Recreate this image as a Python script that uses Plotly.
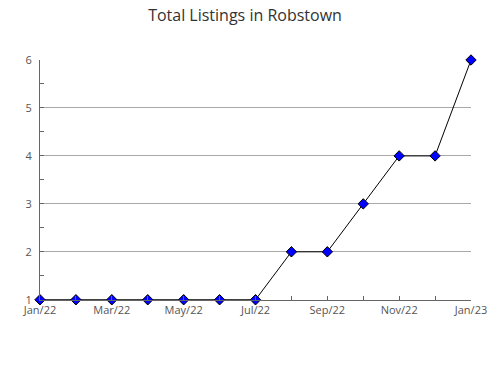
import plotly.graph_objects as go

months = ["Jan/22", "Feb/22", "Mar/22", "Apr/22", "May/22", "Jun/22", "Jul/22",
          "Aug/22", "Sep/22", "Oct/22", "Nov/22", "Dec/22", "Jan/23"]
listings = [1, 1, 1, 1, 1, 1, 1, 2, 2, 3, 4, 4, 6]
x_idx = list(range(len(months)))
tick_idx = x_idx[::2]
tick_labels = months[::2]
y_ticks = [1, 2, 3, 4, 5, 6]

fig = go.Figure()
fig.add_trace(go.Scatter(
    x=x_idx, y=listings, mode="lines+markers",
    line=dict(color="black", width=1),
    marker=dict(symbol="diamond", size=8, color="#0000ff",
                line=dict(color="black", width=1)),
    cliponaxis=False, hoverinfo="skip", showlegend=False,
))

font = "Open Sans, Segoe UI, sans-serif"
fig.update_layout(
    width=490, height=380,
    margin=dict(l=40, r=19, t=60, b=80),
    paper_bgcolor="white", plot_bgcolor="white",
    title=dict(text="Total Listings in Robstown", x=0.5, xanchor="center",
               y=0.96, yanchor="middle",
               font=dict(family=font, size=16, color="#333")),
    font=dict(family=font, size=11, color="#555"),
    xaxis=dict(
        range=[0, 12], tickvals=tick_idx, ticktext=tick_labels, automargin=False,
        showgrid=False, zeroline=False, showline=True, linecolor="#666", linewidth=1,
        ticks="inside", ticklen=4, tickcolor="#666",
        minor=dict(tickvals=x_idx, ticks="inside", ticklen=4, tickcolor="#666", showgrid=False),
        tickfont=dict(family=font, size=11, color="#555"),
    ),
    yaxis=dict(
        range=[0.995, 6], tickvals=y_ticks, automargin=False,
        showgrid=True, gridcolor="#aaa", gridwidth=1, zeroline=False,
        showline=True, linecolor="#666", linewidth=1,
        ticks="inside", ticklen=4, tickcolor="#666", ticklabelstandoff=5,
        minor=dict(dtick=0.5, ticks="inside", ticklen=4, tickcolor="#666", showgrid=False),
        tickfont=dict(family=font, size=11, color="#555"),
    ),
)
fig.write_html("out.html")
